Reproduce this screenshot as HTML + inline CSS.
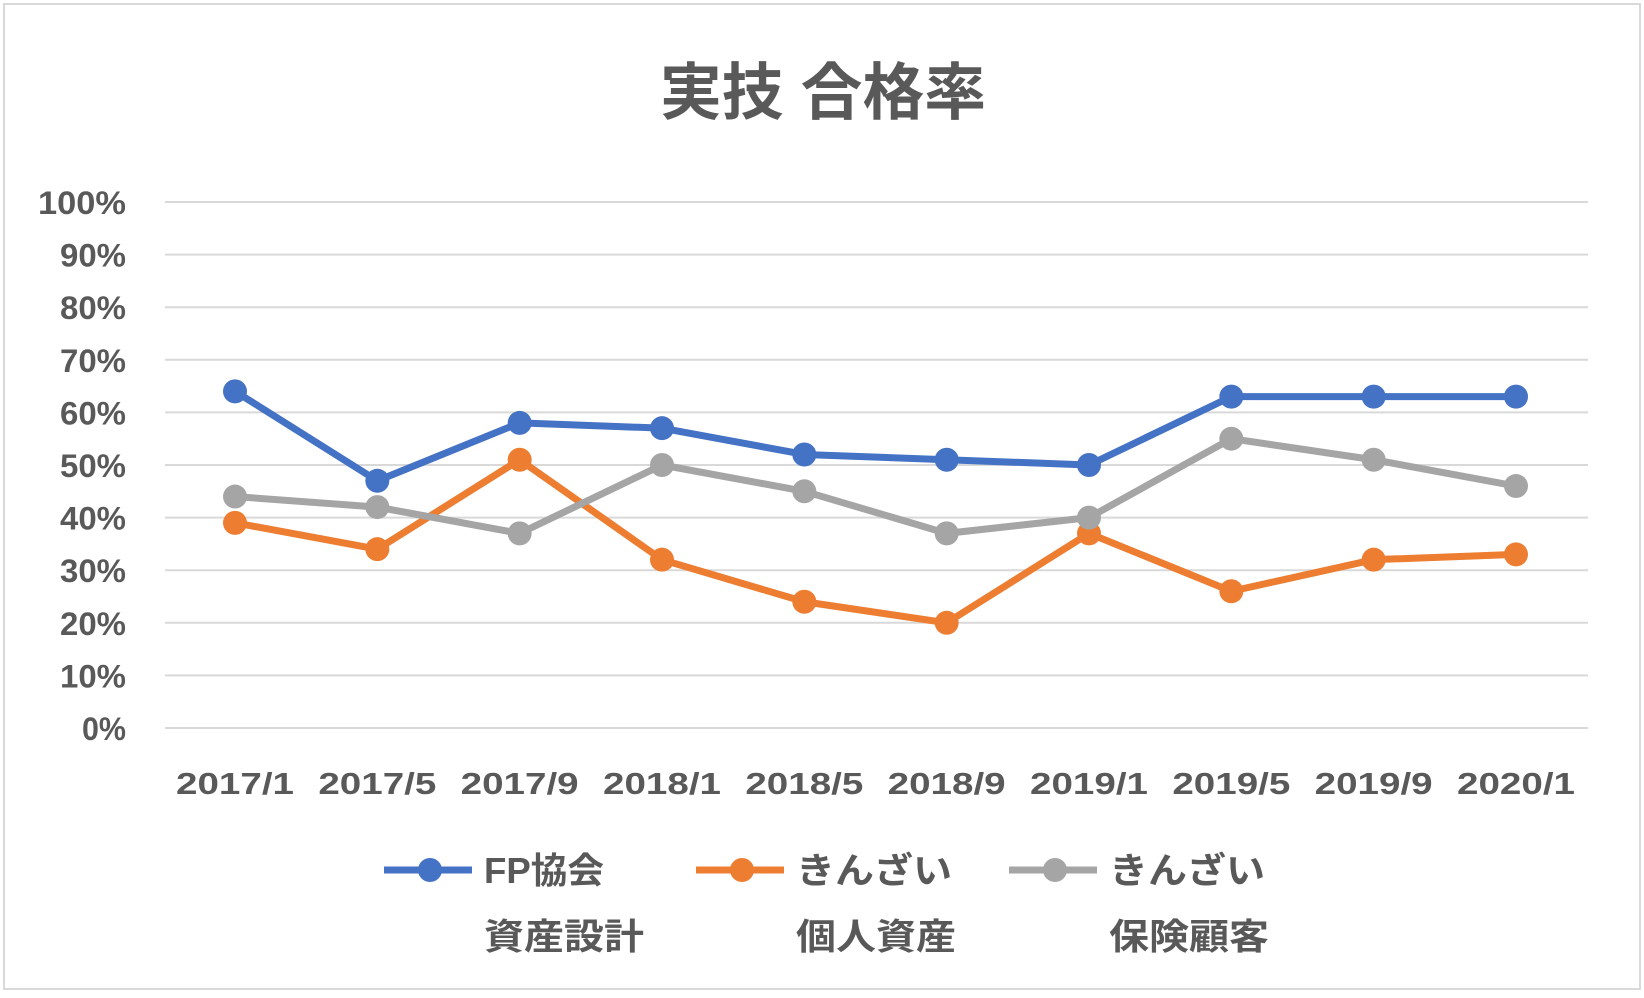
<!DOCTYPE html>
<html><head><meta charset="utf-8"><style>
body{margin:0;background:#fff;}
svg text{font-family:"Liberation Sans","Noto Sans CJK JP",sans-serif;font-weight:bold;fill:#595959;}
</style></head><body>
<svg id="c" width="1644" height="993" xmlns="http://www.w3.org/2000/svg">
<rect x="4" y="4" width="1636" height="985" fill="#fff" stroke="#d9d9d9" stroke-width="2"/>
<text x="823" y="114" font-size="62" text-anchor="middle" textLength="326" lengthAdjust="spacingAndGlyphs">実技 合格率</text>
<g id="grid"></g><g id="series"></g><g id="legend"></g>
</svg>
<script>
const categories=["2017/1","2017/5","2017/9","2018/1","2018/5","2018/9","2019/1","2019/5","2019/9","2020/1"];
const fpValues=[64,47,58,57,52,51,50,63,63,63];
const kojinValues=[39,34,51,32,24,20,37,26,32,33];
const hokenValues=[44,42,37,50,45,37,40,55,51,46];
const yTicks=[0,10,20,30,40,50,60,70,80,90,100];
const seriesNames=[["FP協会","資産設計"],["きんざい","個人資産"],["きんざい","保険顧客"]];
const colors=["#4472c4","#ed7d31","#a5a5a5"];
const NS="http://www.w3.org/2000/svg";
const x=i=>235+i*(1516-235)/(categories.length-1);
const y=v=>728-v*(728-202)/100;
function mk(t,a,p){const e=document.createElementNS(NS,t);for(const k in a)e.setAttribute(k,a[k]);p.appendChild(e);return e;}
const grid=document.getElementById('grid');
yTicks.forEach(v=>{
 const l=mk('line',{x1:165,x2:1588,y1:y(v),y2:y(v),stroke:'#d9d9d9','stroke-width':2},grid);
 
 
 const s=String(v).length+1;
 const t=mk('text',{x:126,y:y(v)+12,'font-size':32,'text-anchor':'end',textLength:s*22,lengthAdjust:'spacingAndGlyphs'},grid);t.textContent=v+'%';
 
 
});
categories.forEach((c,i)=>{
 const t=mk('text',{x:x(i),y:794,'font-size':31,'text-anchor':'middle',textLength:118,lengthAdjust:'spacingAndGlyphs'},grid);t.textContent=c;
 
 
});
const sg=document.getElementById('series');
[fpValues,kojinValues,hokenValues].forEach((vals,s)=>{
 const g=mk('g',{},sg);
 
 
 mk('polyline',{points:vals.map((v,i)=>x(i)+','+y(v)).join(' '),fill:'none',stroke:colors[s],'stroke-width':7,'stroke-linejoin':'round'},g);
 vals.forEach((v,i)=>{const p=mk('circle',{cx:x(i),cy:y(v),r:12,fill:colors[s]},g);
  
  });
});
const lg=document.getElementById('legend');
const lx=[384,696,1009];
seriesNames.forEach((n,s)=>{
 const g=mk('g',{},lg);
 
 
 mk('line',{x1:lx[s],x2:lx[s]+88,y1:870,y2:870,stroke:colors[s],'stroke-width':7},g);
 mk('circle',{cx:lx[s]+46,cy:870,r:12,fill:colors[s]},g);
 const t1=mk('text',{x:lx[s]+100,y:883,'font-size':36,textLength:n[0]==='FP協会'?120:156,lengthAdjust:'spacingAndGlyphs'},g);t1.textContent=n[0];
 const t2=mk('text',{x:lx[s]+100,y:949,'font-size':36,textLength:160,lengthAdjust:'spacingAndGlyphs'},g);t2.textContent=n[1];
});
</script>
</body></html>
